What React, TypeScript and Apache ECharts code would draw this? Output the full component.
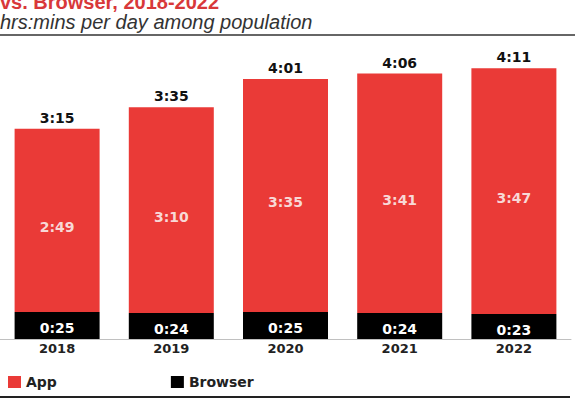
import React, { useEffect, useRef } from "react";
import * as echarts from "echarts";

const years = ["2018", "2019", "2020", "2021", "2022"];
const appMinutes = [169, 190, 215, 221, 227];
const browserMinutes = [25, 24, 25, 24, 23];
const totalMinutes = [195, 215, 241, 246, 251];

const title = "vs. Browser, 2018-2022";
const subtitle = "hrs:mins per day among population";
const note = "Note: ages 18+; includes all time spent with internet activities on mobile devices";

const fmt = (m: number) => {
  const h = Math.floor(m / 60);
  const mm = m % 60;
  return `${h}:${mm < 10 ? "0" + mm : mm}`;
};

const RED = "#ea3a37";
const FONT = "'Liberation Sans', Arial, sans-serif";
const BFONT = "'DejaVu Sans', sans-serif";

export default function App() {
  const ref = useRef<HTMLDivElement>(null);
  useEffect(() => {
    if (!ref.current) return;
    const chart = echarts.init(ref.current, null, { renderer: "svg" });
    chart.setOption({
      animation: false,
      backgroundColor: "#fff",
      textStyle: { fontFamily: BFONT },
      grid: { left: 0, width: 571, top: 14, bottom: 62, containLabel: false },
      legend: {
        data: ["App", "Browser"],
        left: 3,
        top: 370,
        itemWidth: 13,
        itemHeight: 12,
        itemGap: 114,
        icon: "rect",
        textStyle: { fontSize: 14, fontWeight: "bold", color: "#222", fontFamily: BFONT },
      },
      xAxis: {
        type: "category",
        data: years,
        axisLine: { show: true, lineStyle: { color: "#c0c0c0", width: 1 } },
        axisTick: { show: false },
        axisLabel: { fontSize: 13, fontWeight: "bold", color: "#222", margin: 3, fontFamily: BFONT },
      },
      yAxis: {
        type: "value",
        min: 0,
        max: 300,
        show: false,
        splitLine: { show: false },
      },
      series: [
        {
          name: "Browser",
          type: "bar",
          stack: "t",
          data: browserMinutes,
          barWidth: 85,
          itemStyle: { color: "#000" },
          label: {
            show: true,
            position: "inside",
            offset: [0, 3],
            formatter: (p: any) => fmt(p.value),
            color: "#fff",
            fontSize: 14,
            fontWeight: "bold",
            fontFamily: BFONT,
          },
        },
        {
          name: "App",
          type: "bar",
          stack: "t",
          data: appMinutes,
          barWidth: 85,
          itemStyle: { color: RED },
          label: {
            show: true,
            position: "inside",
            offset: [0, 7],
            formatter: (p: any) => fmt(p.value),
            color: "#f8d8d6",
            fontSize: 14,
            fontWeight: "bold",
            fontFamily: BFONT,
          },
        },
        {
          name: "Total",
          type: "bar",
          stack: "t",
          data: totalMinutes.map(() => 0),
          barWidth: 85,
          itemStyle: { color: "transparent" },
          label: {
            show: true,
            position: "top",
            distance: 4,
            formatter: (p: any) => fmt(totalMinutes[p.dataIndex]),
            color: "#111",
            fontSize: 14,
            fontWeight: "bold",
            fontFamily: BFONT,
          },
        },
      ],
      graphic: [
        {
          type: "text",
          x: 0,
          y: -8,
          style: { text: title, fill: "#d8383a", font: `bold 20px ${FONT}` },
        },
        {
          type: "text",
          x: 0,
          y: 12,
          style: { text: subtitle, fill: "#333", font: `italic 20px ${FONT}` },
        },
        {
          type: "line",
          shape: { x1: 0, y1: 35, x2: 575, y2: 35 },
          style: { stroke: "#333", lineWidth: 1.5 },
        },
        {
          type: "line",
          shape: { x1: 0, y1: 397, x2: 570, y2: 397 },
          style: { stroke: "#222", lineWidth: 2 },
        },
        {
          type: "text",
          x: 0,
          y: 399,
          style: { text: note, fill: "#555", font: `11px ${FONT}` },
        },
      ],
    });
    return () => chart.dispose();
  }, []);
  return (
    <div
      ref={ref}
      style={{ position: "absolute", left: 0, top: 0, width: 582, height: 401, overflow: "hidden" }}
    />
  );
}
